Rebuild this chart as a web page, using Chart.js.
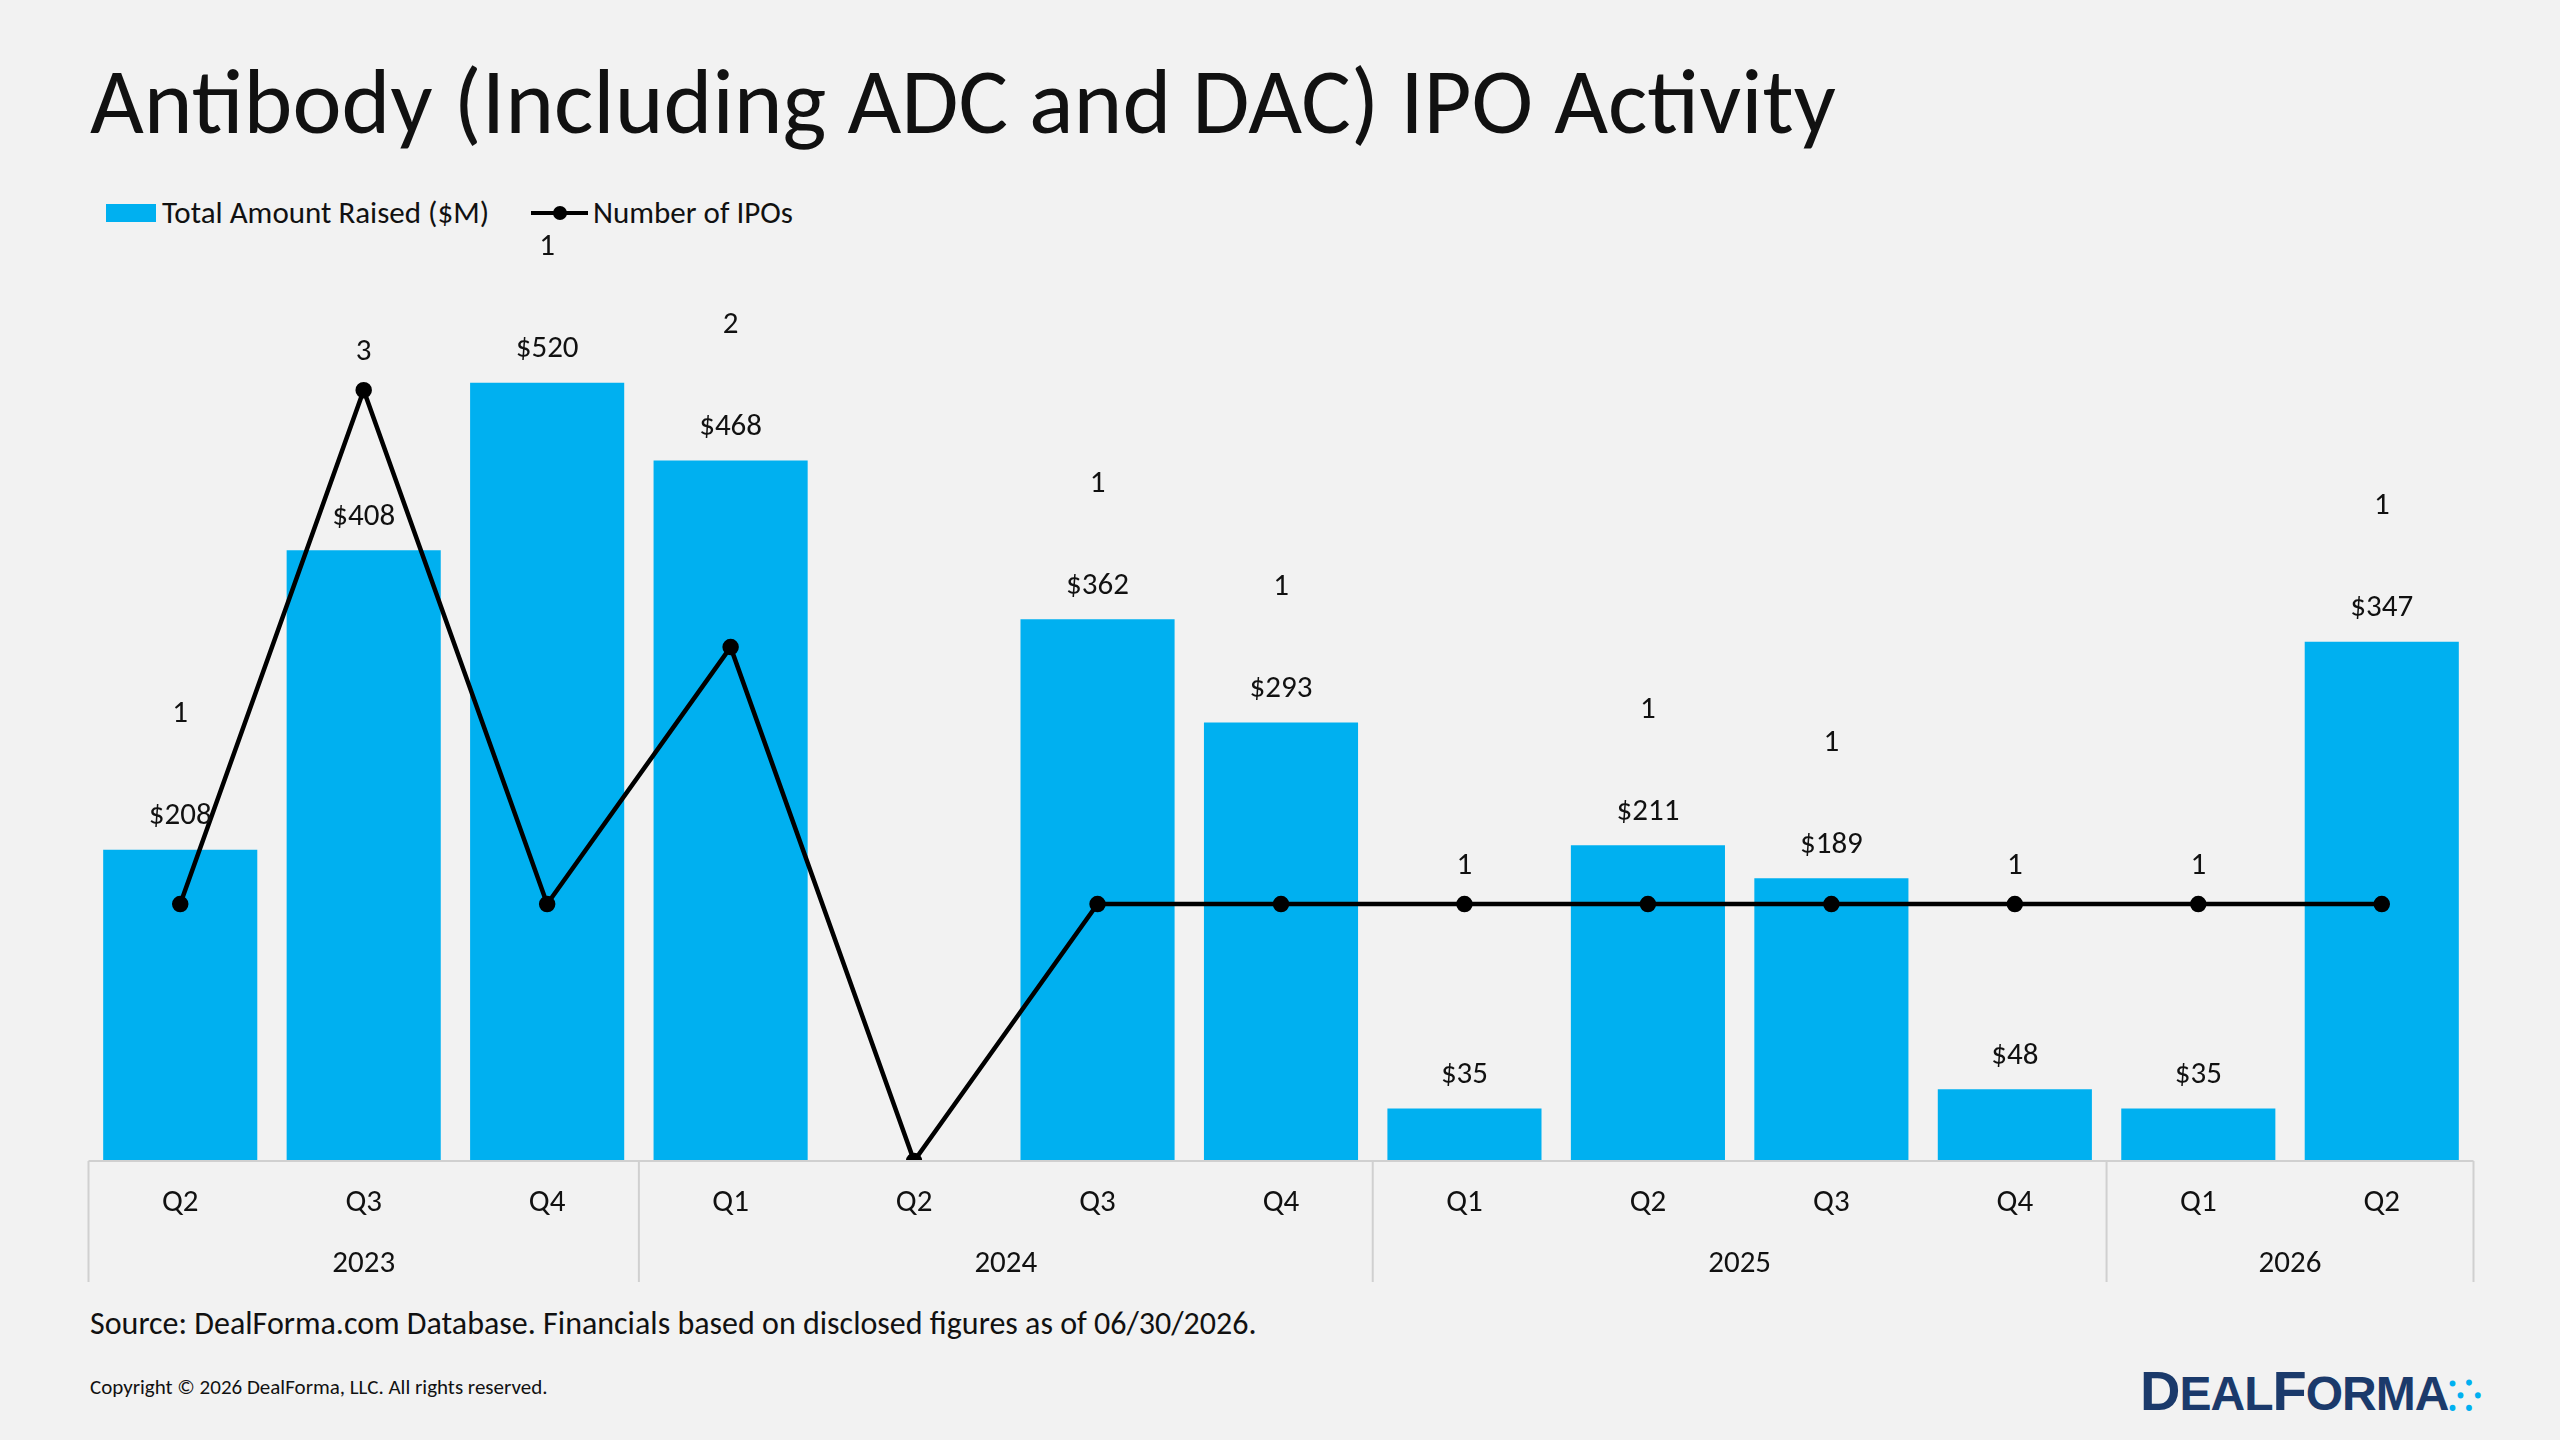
<!DOCTYPE html>
<html>
<head>
<meta charset="utf-8">
<script src="https://cdn.jsdelivr.net/npm/chart.js@4"></script>
<style>
  body { margin:0; width:2560px; height:1440px; background:#F2F2F2; font-family:Carlito, "Open Sans", sans-serif; position:relative; overflow:hidden; color:#111; }
  .abs { position:absolute; white-space:nowrap; }
  #title { left:90px; top:44px; font-size:93px; }
  #chartBox { position:absolute; left:78px; top:200px; width:2406px; height:1090px; }
  .leg { font-size:31px; top:193px; }
  #src { left:90px; top:1304px; font-size:32px; }
  #copy { left:90px; top:1374px; font-size:21px; }
  #logo { left:2140px; top:1358px; font-size:48px; font-weight:bold; color:#1B3A6B; letter-spacing:-1px; font-family:"Liberation Sans", sans-serif; }
</style>
</head>
<body>
<div id="title" class="abs">Antibody (Including ADC and DAC) IPO Activity</div>
<div class="abs" style="left:106px;top:204px;width:50px;height:18px;background:#00B0F0"></div>
<div class="abs leg" style="left:162px">Total Amount Raised ($M)</div>
<div class="abs" style="left:531px;top:211px;width:57px;height:4px;background:#000"></div>
<div class="abs" style="left:553px;top:206px;width:14px;height:14px;border-radius:7px;background:#000"></div>
<div class="abs leg" style="left:593px">Number of IPOs</div>
<div id="chartBox"><canvas id="ipoChart"></canvas></div>
<div id="src" class="abs">Source: DealForma.com Database. Financials based on disclosed figures as of 06/30/2026.</div>
<div id="copy" class="abs">Copyright © 2026 DealForma, LLC. All rights reserved.</div>
<div id="logo" class="abs"><span style="font-size:56px">D</span>EAL<span style="font-size:56px">F</span>ORMA<span style="color:#00B0F0;font-size:40px">⁚⁛</span></div>
<script>
//Chart data
const quarters = ["Q2","Q3","Q4","Q1","Q2","Q3","Q4","Q1","Q2","Q3","Q4","Q1","Q2"];
const years = ["2023","2023","2023","2024","2024","2024","2024","2025","2025","2025","2025","2026","2026"];
const amountRaised = [208,408,520,468,0,362,293,35,211,189,48,35,347];
const ipoCount = [1,3,1,2,0,1,1,1,1,1,1,1,1];

const font = 'Carlito, "Open Sans", sans-serif';

//Draw value labels, category axis and year groups
const labelPlugin = {
    id: "labels",
    afterDatasetsDraw(chart) {
        const ctx = chart.ctx;
        const area = chart.chartArea;
        const bars = chart.getDatasetMeta(0).data;
        const points = chart.getDatasetMeta(1).data;
        ctx.save();
        ctx.fillStyle = "#111";
        ctx.textAlign = "center";
        ctx.textBaseline = "middle";
        ctx.font = "31px " + font;
        bars.forEach((bar, i) => {
            if (amountRaised[i] > 0) {
                ctx.fillText("$" + amountRaised[i], bar.x, bar.y - 33);
            }
            if (ipoCount[i] > 0) {
                const pt = points[i];
                //count label sits above the higher of bar label and point
                let y = pt.y - 38;
                if (amountRaised[i] > 0 && bar.y - 135 < y) y = bar.y - 135;
                ctx.fillText(String(ipoCount[i]), pt.x, y);
            }
        });
        //Axis
        const bottom = area.bottom;
        ctx.strokeStyle = "#D0D0D0";
        ctx.lineWidth = 2;
        ctx.beginPath();
        ctx.moveTo(area.left, bottom);
        ctx.lineTo(area.right, bottom);
        ctx.stroke();
        const step = (area.right - area.left) / quarters.length;
        quarters.forEach((q, i) => {
            ctx.fillText(q, area.left + step * (i + 0.5), bottom + 42);
        });
        //Year groups
        let start = 0;
        for (let i = 1; i <= years.length; i++) {
            if (i === years.length || years[i] !== years[start]) {
                const x0 = area.left + step * start;
                const x1 = area.left + step * i;
                ctx.fillText(years[start], (x0 + x1) / 2, bottom + 103);
                start = i;
            }
        }
        const edges = [0];
        for (let i = 1; i < years.length; i++) if (years[i] !== years[i - 1]) edges.push(i);
        edges.push(years.length);
        edges.forEach(e => {
            const x = area.left + step * e;
            ctx.beginPath();
            ctx.moveTo(x, bottom);
            ctx.lineTo(x, bottom + 121);
            ctx.stroke();
        });
        ctx.restore();
    }
};

new Chart(document.getElementById("ipoChart"), {
    type: "bar",
    data: {
        labels: quarters,
        datasets: [{
            type: "bar",
            label: "Total Amount Raised ($M)",
            data: amountRaised,
            backgroundColor: "#00B0F0",
            yAxisID: "y",
            categoryPercentage: 1,
            barPercentage: 0.84,
            order: 2
        }, {
            type: "line",
            label: "Number of IPOs",
            data: ipoCount,
            borderColor: "#000",
            backgroundColor: "#000",
            borderWidth: 4.5,
            pointRadius: 6,
            tension: 0,
            yAxisID: "y1",
            order: 1
        }]
    },
    options: {
        responsive: true,
        maintainAspectRatio: false,
        animation: false,
        layout: { padding: { top: 63, bottom: 129, left: 2, right: 2 } },
        plugins: { legend: { display: false }, tooltip: { enabled: false } },
        scales: {
            x: { display: false },
            y: { display: false, min: 0, max: 600 },
            y1: { display: false, min: 0, max: 3.495 }
        }
    },
    plugins: [labelPlugin]
});
</script>
</body>
</html>
